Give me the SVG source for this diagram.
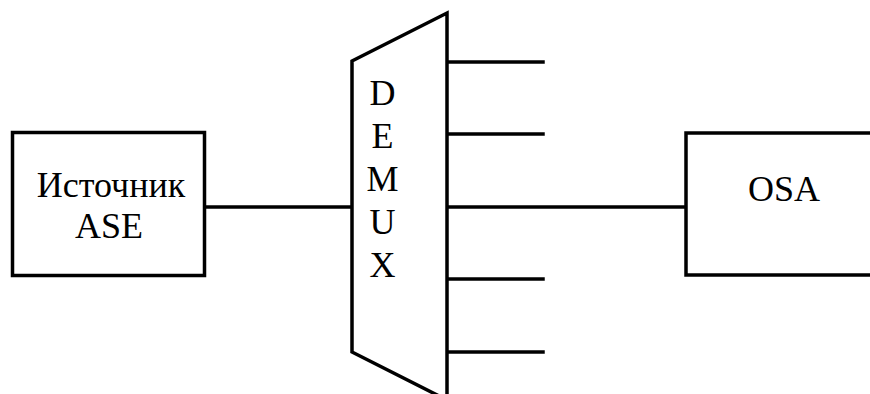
<svg xmlns="http://www.w3.org/2000/svg" width="870" height="394" viewBox="0 0 870 394">
<style>
.s{fill:none;stroke:#000;stroke-width:3.5;stroke-linejoin:miter;stroke-linecap:square}
.b{fill:#fff;stroke:#000;stroke-width:3.5}
.t{font-family:"Liberation Serif","Times New Roman","DejaVu Serif",serif;font-size:36px;fill:#000;text-anchor:middle}
</style>
<rect width="870" height="394" fill="#fff"/>
<g id="connectors">
<line class="s" x1="204" y1="207" x2="352" y2="207"/>
<line class="s" x1="447" y1="62" x2="543" y2="62"/>
<line class="s" x1="447" y1="134" x2="543" y2="134"/>
<line class="s" x1="447" y1="207" x2="686" y2="207"/>
<line class="s" x1="447" y1="279" x2="543" y2="279"/>
<line class="s" x1="447" y1="352" x2="543" y2="352"/>
</g>
<g id="source">
<rect class="b" x="12.5" y="132.5" width="192" height="143"/>
<text class="t" x="111" y="197">Источник</text>
<text class="t" x="109" y="238">ASE</text>
</g>
<g id="demux">
<polygon class="b" points="352,61 447,13 447,400 352,352"/>
<text class="t" x="382.5" y="105">D</text>
<text class="t" x="382.5" y="148">E</text>
<text class="t" x="382.5" y="191">M</text>
<text class="t" x="382.5" y="234">U</text>
<text class="t" x="382.5" y="277">X</text>
</g>
<g id="osa">
<rect class="b" x="686" y="133" width="200" height="142"/>
<text class="t" x="784" y="201">OSA</text>
</g>
</svg>
